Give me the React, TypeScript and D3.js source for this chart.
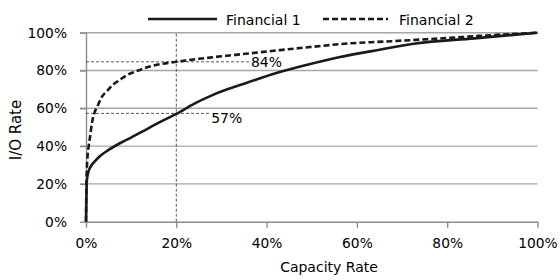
import React, { useEffect, useRef } from 'react';
import * as d3 from 'd3';

// capacity rate (%) vs I/O rate (%)
const capacity1 = [0, 0.2, 0.5, 1, 2, 3, 5, 7.5, 10, 13.5, 17, 20, 24, 28, 35, 42, 49, 56, 65, 73, 86, 100];
const ioRate1 = [0, 22, 26, 29, 32, 34.5, 38, 41.5, 44.5, 49, 53.5, 57, 62.5, 67, 73, 78.5, 83, 87, 91, 94.3, 97, 100];

const capacity2 = [0, 0.1, 0.3, 0.6, 0.9, 1.3, 1.8, 2.7, 3.5, 4.6, 6, 7.5, 9, 11, 13, 15.7, 20, 25, 30, 36, 43, 50, 58, 66, 73, 80, 87, 100];
const ioRate2 = [0, 20, 33, 40, 45, 52, 57, 62, 66, 69, 72.5, 75, 77.5, 79.5, 81.3, 83, 84.6, 86.2, 87.5, 89, 90.8, 92.5, 94.3, 95.3, 96.2, 97.2, 98.3, 100];

const seriesNames = ['Financial 1', 'Financial 2'];
const xTicks = [0, 20, 40, 60, 80, 100];
const yTicks = [0, 20, 40, 60, 80, 100];

// marker at 20% capacity
const markCapacity = 20;
const markIo = [57.3, 84.6];
const markLabels = ['57%', '84%'];
const markEnds = [27.5, 36.3];

const FONT = '"DejaVu Sans", sans-serif';

const App = () => {
  const ref = useRef<SVGSVGElement>(null);

  useEffect(() => {
    const svg = d3.select(ref.current);
    svg.selectAll('*').remove();

    const left = 86, right = 537.5, top = 32.7, bottom = 221.7;
    const x = d3.scaleLinear().domain([0, 100]).range([left, right]);
    const y = d3.scaleLinear().domain([0, 100]).range([bottom, top]);

    // gridlines
    svg.append('g')
      .selectAll('line')
      .data(yTicks.filter(d => d > 0))
      .join('line')
      .attr('x1', left - 6)
      .attr('x2', right)
      .attr('y1', d => y(d))
      .attr('y2', d => y(d))
      .attr('stroke', '#a6a6a6')
      .attr('stroke-width', 1.4);

    // y axis
    const yAxis = svg.append('g')
      .attr('transform', `translate(${left},0)`)
      .call(d3.axisLeft(y).tickValues(yTicks).tickFormat(d => d + '%').tickSize(6).tickSizeOuter(0));
    yAxis.select('.domain').attr('stroke', '#8c8c8c').attr('stroke-width', 1.4);
    yAxis.selectAll('.tick line').attr('stroke', '#8c8c8c').attr('stroke-width', 1.4);
    yAxis.selectAll('.tick text')
      .attr('font-family', FONT).attr('font-size', 13.8).attr('fill', '#000').attr('x', -19);

    // x axis
    const xAxis = svg.append('g')
      .attr('transform', `translate(0,${bottom})`)
      .call(d3.axisBottom(x).tickValues(xTicks).tickFormat(d => d + '%').tickSize(6).tickSizeOuter(0));
    xAxis.select('.domain').attr('stroke', '#8c8c8c').attr('stroke-width', 1.4);
    xAxis.selectAll('.tick line').attr('stroke', '#8c8c8c').attr('stroke-width', 1.4);
    xAxis.selectAll('.tick text')
      .attr('font-family', FONT).attr('font-size', 13.8).attr('fill', '#000').attr('y', 17);

    // marker lines
    svg.append('line')
      .attr('x1', x(markCapacity)).attr('x2', x(markCapacity))
      .attr('y1', y(0)).attr('y2', y(100))
      .attr('stroke', '#333').attr('stroke-width', 0.8).attr('stroke-dasharray', '3,2');
    markIo.forEach((v, i) => {
      svg.append('line')
        .attr('x1', x(0)).attr('x2', x(markEnds[i]))
        .attr('y1', y(v)).attr('y2', y(v))
        .attr('stroke', '#333').attr('stroke-width', 0.8).attr('stroke-dasharray', '3,2');
      svg.append('text')
        .attr('x', x(markEnds[i]) + 1)
        .attr('y', y(v) + (i === 0 ? 10 : 5.5))
        .attr('font-family', FONT).attr('font-size', 14)
        .text(markLabels[i]);
    });

    // series lines
    const line = d3.line<[number, number]>()
      .x(d => x(d[0]))
      .y(d => y(d[1]))
      .curve(d3.curveMonotoneX);

    const s1 = capacity1.map((c, i) => [c, ioRate1[i]] as [number, number]);
    const s2 = capacity2.map((c, i) => [c, ioRate2[i]] as [number, number]);

    svg.append('path').attr('d', line(s1))
      .attr('fill', 'none').attr('stroke', '#1a1a1a').attr('stroke-width', 2.6);
    svg.append('path').attr('d', line(s2))
      .attr('fill', 'none').attr('stroke', '#1a1a1a').attr('stroke-width', 2.6)
      .attr('stroke-dasharray', '6,3');

    // legend
    const leg = [
      { x1: 148, x2: 217, tx: 226, dash: null },
      { x1: 323, x2: 388, tx: 399, dash: '6,3' },
    ];
    leg.forEach((l, i) => {
      svg.append('line')
        .attr('x1', l.x1).attr('x2', l.x2).attr('y1', 19).attr('y2', 19)
        .attr('stroke', '#1a1a1a').attr('stroke-width', 2.6)
        .attr('stroke-dasharray', l.dash);
      svg.append('text')
        .attr('x', l.tx).attr('y', 24.5)
        .attr('font-family', FONT).attr('font-size', 14)
        .text(seriesNames[i]);
    });

    // axis titles
    svg.append('text')
      .attr('x', 329).attr('y', 272)
      .attr('text-anchor', 'middle')
      .attr('font-family', FONT).attr('font-size', 14)
      .text('Capacity Rate');
    svg.append('text')
      .attr('transform', 'translate(21,130) rotate(-90)')
      .attr('text-anchor', 'middle')
      .attr('font-family', FONT).attr('font-size', 15)
      .text('I/O Rate');
  }, []);

  return (
    <svg ref={ref} width={560} height={280}
      style={{ position: 'absolute', left: 0, top: 0, background: '#fff' }} />
  );
};

export default App;
